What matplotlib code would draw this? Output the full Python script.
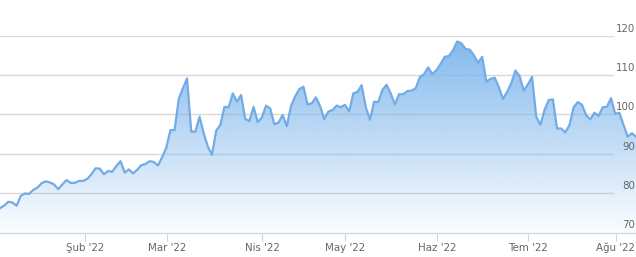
import numpy as np
import matplotlib
matplotlib.use("Agg")
import matplotlib.pyplot as plt
from matplotlib.colors import to_rgb

values = [
    76.2, 76.8, 77.8, 77.6, 76.8, 79.3, 79.9, 79.8, 80.8, 81.4,
    82.5, 83.0, 82.7, 82.2, 81.0, 82.2, 83.3, 82.6, 82.6, 83.1,
    83.1, 83.6, 84.8, 86.3, 86.2, 84.8, 85.6, 85.4, 86.9, 88.1,
    85.2, 86.0, 85.0, 85.9, 87.1, 87.4, 88.1, 87.9, 87.0, 89.1,
    91.5, 96.0, 96.0, 103.9, 106.6, 109.1, 95.6, 95.6, 99.4, 95.2,
    91.8, 89.7, 95.8, 97.3, 101.9, 101.8, 105.3, 103.2, 104.9, 98.8,
    98.3, 101.9, 98.0, 99.2, 102.2, 101.5, 97.5, 97.9, 99.8, 97.0,
    102.1, 104.5, 106.4, 107.0, 102.5, 102.8, 104.3, 102.1, 98.8, 100.7,
    101.1, 102.2, 101.8, 102.4, 100.7, 105.3, 105.7, 107.4, 101.8, 98.6,
    103.2, 103.1, 106.2, 107.5, 105.3, 102.5, 105.1, 105.1, 105.9, 106.0,
    106.6, 109.4, 110.2, 111.9, 110.2, 111.2, 112.8, 114.6, 114.8, 116.3,
    118.5, 118.0, 116.6, 116.4, 115.0, 113.1, 114.6, 108.3, 109.0, 109.3,
    106.9, 103.9, 105.7, 107.9, 111.1, 109.7, 106.0, 107.6, 109.5, 99.4,
    97.3, 101.1, 103.6, 103.8, 96.4, 96.4, 95.4, 97.3, 101.8, 103.1,
    102.4, 99.8, 98.7, 100.4, 99.6, 101.8, 101.9, 104.1, 100.1, 100.4,
    97.3, 94.3, 95.2, 94.3,
]
month_labels = ["Şub '22", "Mar '22", "Nis '22", "May '22", "Haz '22", "Tem '22", "Ağu '22"]
month_pos = [20.4, 40.2, 63.1, 83.1, 105.1, 127.1, 148.1]
y_ticks = [70, 80, 90, 100, 110, 120]

W, H = 636, 257
fig = plt.figure(figsize=(W / 100, H / 100), dpi=100)
ax = fig.add_axes([0, 24.5 / H, 1, 197 / H])
x = np.arange(len(values))
vals = np.array(values)

# gridlines
for v in y_ticks[1:]:
    ax.axhline(v, xmin=0, xmax=613 / 636, color="#d8d8d8", lw=1.0, zorder=0)

# gradient fill
base = np.array(to_rgb("#7cb5ec"))
ymax = vals.max()
n = 256
img = np.zeros((n, 1, 4))
img[:, 0, :3] = base
img[:, 0, 3] = np.linspace(0.03, 0.95, n)
poly = ax.fill_between(x, vals, 70, color="none", lw=0)
im = ax.imshow(img, aspect="auto", origin="lower",
               extent=[0, len(values) - 1, 70, ymax], zorder=1,
               interpolation="bilinear")
im.set_clip_path(poly.get_paths()[0], transform=ax.transData)
ax.set_xlim(0, len(values) - 1)
ax.set_ylim(70, 120)

ax.plot(x, vals, color="#72abe5", lw=1.6, zorder=3, solid_joinstyle="round")

for s in ["top", "left", "right"]:
    ax.spines[s].set_visible(False)
ax.spines["bottom"].set_color("#ccd6eb")
ax.spines["bottom"].set_linewidth(1.0)

ax.set_yticks([])
ax.set_xticks(month_pos)
ax.set_xticklabels(month_labels)
ax.tick_params(axis="x", length=5.8, width=0.8, color="#ccd6eb",
               labelcolor="#666666", labelsize=7.4, pad=1.5)

for v in y_ticks:
    ax.annotate(str(v), xy=(1, v), xycoords=("axes fraction", "data"),
                xytext=(-1, 7), textcoords="offset pixels",
                ha="right", va="center", fontsize=7.4, color="#666666",
                zorder=4, annotation_clip=False)

fig.savefig("out.png", dpi=100)
